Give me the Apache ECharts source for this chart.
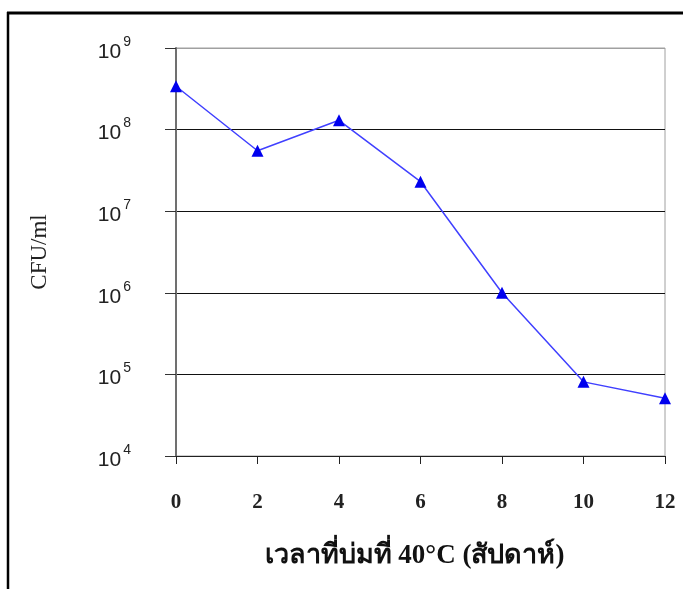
<!DOCTYPE html>
<html>
<head>
<meta charset="utf-8">
<script src="https://cdn.jsdelivr.net/npm/echarts@6/dist/echarts.min.js"></script>
<style>html,body{margin:0;padding:0;background:#fff;}#c{width:683px;height:589px;}</style>
</head>
<body>
<div id="c"></div>
<script>
const weeks = [0, 2, 4, 6, 8, 10, 12];
const cfu = [3.4e8, 5.5e7, 1.3e8, 2.3e7, 1.0e6, 8.1e4, 5.1e4];
const xTicks = [0, 2, 4, 6, 8, 10, 12];
const yTickExponents = [4, 5, 6, 7, 8, 9];
const xTitle = 'เวลาที่บ่มที่ 40°C (สัปดาห์)';
const yTitle = 'CFU/ml';

const chart = echarts.init(document.getElementById('c'));
chart.setOption({
  backgroundColor: '#fff',
  animation: false,
  graphic: [
    { type: 'line', shape: { x1: 7, y1: 13, x2: 683, y2: 13 }, style: { stroke: '#000', lineWidth: 3 } },
    { type: 'line', shape: { x1: 8, y1: 12, x2: 8, y2: 589 }, style: { stroke: '#000', lineWidth: 2.5 } }
  ],
  grid: { left: 176, right: 18, top: 48, bottom: 133, show: true, borderColor: '#a0a0a0', borderWidth: 1, backgroundColor: 'transparent' },
  xAxis: {
    type: 'value', min: 0, max: 12, interval: 2,
    name: xTitle, nameLocation: 'middle', nameGap: 87,
    nameTextStyle: { fontFamily: 'Liberation Serif, serif', fontWeight: 'bold', fontSize: 27, color: '#111', padding: [0, 12, 0, 0] },
    axisLine: { show: true, lineStyle: { color: '#222', width: 1 } },
    axisTick: { show: true, length: 8, lineStyle: { color: '#222' } },
    splitLine: { show: false },
    axisLabel: { margin: 36, fontFamily: 'Liberation Serif, serif', fontWeight: 'bold', fontSize: 21, color: '#222',
      formatter: v => xTicks.includes(v) ? String(v) : '' }
  },
  yAxis: {
    type: 'log', logBase: 10, min: 1e4, max: 1e9,
    name: yTitle, nameLocation: 'middle', nameGap: 125,
    nameTextStyle: { fontFamily: 'Liberation Serif, serif', fontWeight: 'normal', fontSize: 23, color: '#222' },
    axisLine: { show: true, lineStyle: { color: '#707070', width: 2 } },
    axisTick: { show: true, length: 11, lineStyle: { color: '#333' } },
    splitLine: { show: true, lineStyle: { color: ['#111', '#111', '#111', '#111', '#111', '#a0a0a0'], width: 1 } },
    axisLabel: {
      margin: 45, color: '#222', fontFamily: 'Liberation Sans, Arial, sans-serif',
      formatter: v => {
        const e = Math.round(Math.log10(v));
        return yTickExponents.includes(e) ? '{b|10}{s|' + e + '}' : '';
      },
      rich: {
        b: { fontSize: 21, fontFamily: 'Liberation Sans, Arial, sans-serif', color: '#222', padding: [8, 0, 0, 0] },
        s: { fontSize: 14, fontFamily: 'Liberation Sans, Arial, sans-serif', color: '#222', padding: [0, 0, 12, 2] }
      }
    }
  },
  series: [{
    type: 'line',
    data: weeks.map((w, i) => [w, cfu[i]]),
    symbol: 'triangle', symbolSize: 12,
    lineStyle: { color: '#4040ff', width: 1.5 },
    itemStyle: { color: '#0000ee' }
  }]
});
</script>
</body>
</html>
